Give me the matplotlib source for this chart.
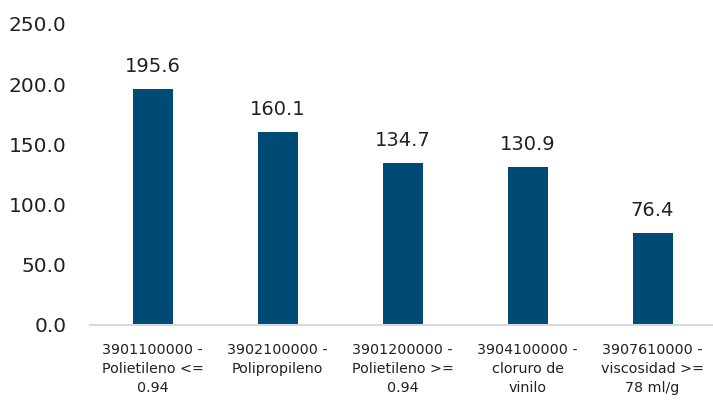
import matplotlib.pyplot as plt

# datos
categorias = ["3901100000 -\nPolietileno <=\n0.94",
              "3902100000 -\nPolipropileno",
              "3901200000 -\nPolietileno >=\n0.94",
              "3904100000 -\ncloruro de\nvinilo",
              "3907610000 -\nviscosidad >=\n78 ml/g"]
valores = [195.6, 160.1, 134.7, 130.9, 76.4]
yticks = [0, 50, 100, 150, 200, 250]

plt.rcParams['font.family'] = ['DejaVu Sans']

fig = plt.figure(figsize=(7.13, 4.03), dpi=100)
ax = fig.add_axes([90/713, 78/403, 625/713, 301/403])

x = range(len(valores))
barras = ax.bar(x, valores, width=0.32, color="#004b76")

for xi, v in zip(x, valores):
    ax.text(xi, v + 11, "{:.1f}".format(v), ha="center", va="bottom",
            fontsize=14, color="#222222")

ax.set_xlim(-0.5, len(valores) - 0.5)
ax.set_ylim(0, 250)
ax.set_yticks(yticks)
ax.set_yticklabels(["{:.1f}".format(t) for t in yticks], fontsize=14.5, color="#222222")
ax.set_xticks(list(x))
ax.set_xticklabels(categorias, fontsize=10.3, color="#222222", linespacing=1.45)
ax.tick_params(axis="both", length=0)
ax.tick_params(axis="x", pad=13)
ax.tick_params(axis="y", pad=17)

for s in ["top", "right", "left"]:
    ax.spines[s].set_visible(False)
ax.spines["bottom"].set_color("#d9d9d9")
ax.spines["bottom"].set_linewidth(1.5)

fig.savefig("out.png", dpi=100)
